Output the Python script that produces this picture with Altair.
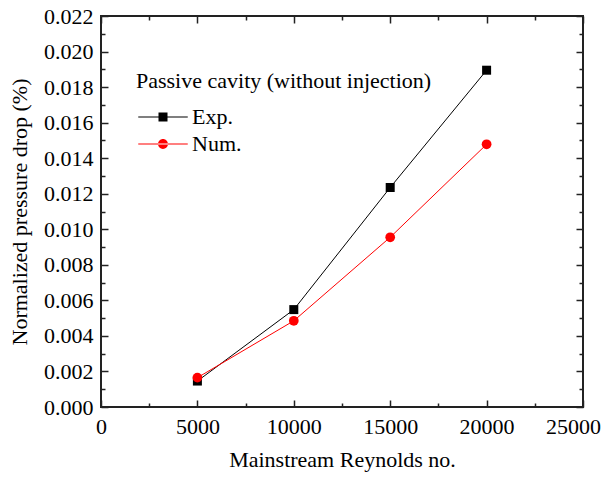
import altair as alt
import pandas as pd

# ---- data ----
reynolds = [5000, 10000, 15000, 20000]
exp_drop = [0.00146, 0.00548, 0.01235, 0.01895]
num_drop = [0.00165, 0.00485, 0.00955, 0.01478]
series_names = ["Exp.", "Num."]
series_colors = ["#000000", "#ff0000"]

x_major = [0, 5000, 10000, 15000, 20000, 25000]
x_minor = [2500, 7500, 12500, 17500, 22500]
y_major = [0.0, 0.002, 0.004, 0.006, 0.008, 0.010, 0.012, 0.014, 0.016, 0.018, 0.020, 0.022]
y_minor = [0.001, 0.003, 0.005, 0.007, 0.009, 0.011, 0.013, 0.015, 0.017, 0.019, 0.021]

legend_title = "Passive cavity (without injection)"
x_title = "Mainstream Reynolds no."
y_title = "Normalized pressure drop (%)"

df = pd.DataFrame({
    "re": reynolds + reynolds,
    "drop": exp_drop + num_drop,
    "series": [series_names[0]] * len(reynolds) + [series_names[1]] * len(reynolds),
})

FONT = "Liberation Serif"
FS = 22
W, H = 482, 391
FRAME = "#222222"

xscale = alt.Scale(domain=[0, 25000], nice=False, zero=False)
yscale = alt.Scale(domain=[0, 0.022], nice=False, zero=False)
cscale = alt.Scale(domain=series_names, range=series_colors)

base = alt.Chart(df)

last_x = x_major[-1]
main_x_axis = alt.Axis(values=x_major, format="d", ticks=False, tickSize=0, domain=False, grid=False,
                       labelPadding=9, labelFlush=False,
                       labelOffset={"condition": {"test": f"datum.value == {last_x}", "value": -10}, "value": 0},
                       title=x_title, titlePadding=12,
                       labelFont=FONT, titleFont=FONT, labelFontSize=FS, titleFontSize=FS,
                       labelColor="black", titleColor="black", titleFontWeight="normal")
main_y_axis = alt.Axis(values=y_major, format=".3f", ticks=False, tickSize=0, domain=False, grid=False,
                       labelPadding=8, labelFlush=False, title=y_title, titlePadding=12,
                       labelFont=FONT, titleFont=FONT, labelFontSize=FS, titleFontSize=FS,
                       labelColor="black", titleColor="black", titleFontWeight="normal")

sq_path = "M-5.5,-0.12H5.5V0.12H-5.5ZM-1,-1H1V1H-1Z"
ci_path = "M-5.5,-0.12H5.5V0.12H-5.5ZM-1.1,0A1.1,1.1 0 1,0 1.1,0A1.1,1.1 0 1,0 -1.1,0Z"

leg = alt.Legend(title=legend_title, orient="none", legendX=35, legendY=55, padding=0,
                 titleFont=FONT, titleFontSize=FS, titleFontWeight="normal", titleColor="black",
                 titleLimit=500, titlePadding=13,
                 labelFont=FONT, labelFontSize=FS, labelColor="black", labelLimit=200,
                 symbolSize=81, symbolStrokeWidth=0, symbolOffset=16, labelOffset=18,
                 rowPadding=5, symbolOpacity=1)

lines = base.mark_line(strokeWidth=1).encode(
    x=alt.X("re:Q", scale=xscale, axis=main_x_axis),
    y=alt.Y("drop:Q", scale=yscale, axis=main_y_axis),
    color=alt.Color("series:N", scale=cscale, legend=None),
)

sq_pts = base.transform_filter(alt.datum.series == series_names[0]).mark_square(size=81, opacity=1).encode(
    x=alt.X("re:Q", scale=xscale, axis=None),
    y=alt.Y("drop:Q", scale=yscale, axis=None),
    color=alt.Color("series:N", scale=cscale, legend=None),
)
ci_pts = base.transform_filter(alt.datum.series == series_names[1]).mark_circle(size=95, opacity=1).encode(
    x=alt.X("re:Q", scale=xscale, axis=None),
    y=alt.Y("drop:Q", scale=yscale, axis=None),
    color=alt.Color("series:N", scale=cscale, legend=None),
)

# invisible layer that only carries the legend (line + marker symbols)
legend_layer = base.mark_point(filled=True, opacity=0).encode(
    x=alt.X("re:Q", scale=xscale, axis=None),
    y=alt.Y("drop:Q", scale=yscale, axis=None),
    color=alt.Color("series:N", scale=cscale, legend=leg),
    shape=alt.Shape("series:N", scale=alt.Scale(domain=series_names, range=[sq_path, ci_path]), legend=leg),
)


def tick_axis(orient, offset, values, size):
    return alt.Axis(orient=orient, offset=offset, values=values, tickSize=size, tickWidth=1.5,
                    tickColor=FRAME, labels=False, domain=False, grid=False, title="")


def x_ticks(orient, offset, values, size):
    return base.mark_point(opacity=0).encode(
        x=alt.X("re:Q", scale=xscale, axis=tick_axis(orient, offset, values, size)),
        y=alt.Y("drop:Q", scale=yscale, axis=None),
    )


def y_ticks(orient, offset, values, size):
    return base.mark_point(opacity=0).encode(
        x=alt.X("re:Q", scale=xscale, axis=None),
        y=alt.Y("drop:Q", scale=yscale, axis=tick_axis(orient, offset, values, size)),
    )


tick_layers = [
    x_ticks("top", -H, x_major, 7), x_ticks("top", -H, x_minor, 4),        # bottom edge, inward
    x_ticks("bottom", -H, x_major, 7), x_ticks("bottom", -H, x_minor, 4),  # top edge, inward
    y_ticks("right", -W, y_major, 7), y_ticks("right", -W, y_minor, 4),    # left edge, inward
    y_ticks("left", -W, y_major, 7), y_ticks("left", -W, y_minor, 4),      # right edge, inward
]

chart = alt.layer(legend_layer, lines, sq_pts, ci_pts, *tick_layers).resolve_axis(
    x="independent", y="independent"
).properties(
    width=W, height=H,
    autosize=alt.AutoSizeParams(type="none"),
    padding={"left": 93, "top": 8, "right": 19, "bottom": 70},
    background="white",
).configure_view(stroke=FRAME, strokeWidth=2)

chart.save("out.html", embed_options={"renderer": "svg", "actions": False})
